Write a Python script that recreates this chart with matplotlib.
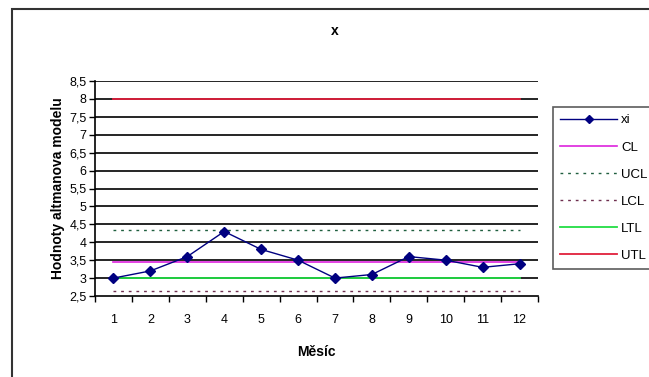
import matplotlib.pyplot as plt
import numpy as np
from matplotlib.patches import Rectangle

plt.rcParams['font.family'] = ['Liberation Sans', 'DejaVu Sans']

months = [1, 2, 3, 4, 5, 6, 7, 8, 9, 10, 11, 12]
xi = [3.0, 3.2, 3.6, 4.3, 3.8, 3.5, 3.0, 3.1, 3.6, 3.5, 3.3, 3.4]
cl = 3.44
ucl = 4.33
lcl = 2.65
ltl = 3.0
utl = 8.0
yticks = [2.5, 3, 3.5, 4, 4.5, 5, 5.5, 6, 6.5, 7, 7.5, 8, 8.5]


def czech(v):
    s = ('%g' % v)
    return s.replace('.', ',')


W, H = 649, 377
fig = plt.figure(figsize=(W / 100, H / 100), dpi=100)
ax = fig.add_axes([95 / W, 1 - 296 / H, (538 - 95) / W, (296 - 81) / H])

# outer chart border (right and bottom fall outside the picture)
fig.patches.append(Rectangle((12 / W, -0.5), 2, 1.5 - 9 / H, transform=fig.transFigure,
                             fill=False, edgecolor='#333333', linewidth=1.5))

# horizontal gridlines
for y in yticks[1:]:
    ax.axhline(y, color='black', linewidth=1.2, zorder=1)

n = len(months)
ax.plot(months, xi, color='#000080', linewidth=1, marker='D', markersize=5,
        label='xi', zorder=5)
ax.plot(months, np.full(n, cl), color='#DD22DD', linewidth=1.2, label='CL', zorder=3)
ax.plot(months, np.full(n, ucl), color='#1F5F3F', linewidth=1,
        linestyle=(0, (2, 3.5)), label='UCL', zorder=3)
ax.plot(months, np.full(n, lcl), color='#6F2F4F', linewidth=1,
        linestyle=(0, (2, 3.5)), label='LCL', zorder=3)
ax.plot(months, np.full(n, ltl), color='#22DD44', linewidth=1.3, label='LTL', zorder=3)
ax.plot(months, np.full(n, utl), color='#E0203C', linewidth=1.3, label='UTL', zorder=3)

ax.set_xlim(0.5, 12.5)
ax.set_ylim(2.5, 8.5)
ax.set_yticks(yticks)
ax.set_yticklabels([czech(v) for v in yticks], fontsize=9)
ax.set_xticks(months)
ax.set_xticklabels([str(m) for m in months], fontsize=9)
ax.set_xticks(np.arange(0.5, 13, 1), minor=True)
ax.tick_params(axis='x', which='major', length=0, pad=13)
ax.tick_params(axis='x', which='minor', length=4, direction='out', width=1)
ax.tick_params(axis='y', length=4, direction='out', width=1, pad=2)

for s in ['top', 'right']:
    ax.spines[s].set_visible(False)
ax.spines['left'].set_linewidth(1.2)
ax.spines['bottom'].set_linewidth(1.2)

ax.set_xlabel('Měsíc', fontsize=10, fontweight='bold', labelpad=14)
ax.set_ylabel('Hodnoty altmanova modelu', fontsize=10, fontweight='bold', labelpad=3)
fig.text(335 / W, 1 - 31 / H, 'x', fontsize=10, fontweight='bold',
         ha='center', va='center')

leg = ax.legend(loc='upper left', bbox_to_anchor=(553 / W, 1 - 107 / H),
                bbox_transform=fig.transFigure, fontsize=9.5, frameon=True,
                fancybox=False, edgecolor='#333333', handlelength=4.3,
                handletextpad=0.3, labelspacing=1.12, borderpad=0.55,
                borderaxespad=0, numpoints=1, markerscale=0.9)
leg.get_frame().set_linewidth(1.2)

fig.savefig('out.png', dpi=100)
